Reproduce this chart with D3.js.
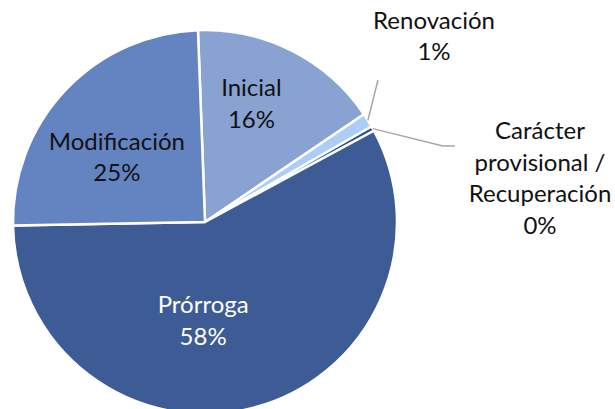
<!DOCTYPE html>
<html>
<head>
<meta charset="utf-8">
<script src="https://cdn.jsdelivr.net/npm/d3@7"></script>
<style>
  body { margin: 0; background: #fff; }
  text { font-family: Lato, "Open Sans", sans-serif; }
</style>
</head>
<body>
<script>
// data (share of total, %)
var categories = ["Inicial", "Renovación", "Carácter provisional / Recuperación", "Prórroga", "Modificación"];
var values = [16.1, 1.2, 0.4, 57.6, 24.7];
var colors = ["#88a3d1", "#abcef6", "#2f4f8a", "#3d5b95", "#6483c1"];

var width = 615, height = 409;
var cx = 205, cy = 222, radius = 192;
var offset = -2.1 * Math.PI / 180;   // first slice starts a little left of 12 o'clock

var svg = d3.select("body").append("svg")
    .attr("width", width)
    .attr("height", height);

var g = svg.append("g")
    .attr("transform", "translate(" + cx + "," + cy + ")");

var data = categories.map(function(c, i) { return {name: c, value: values[i], color: colors[i]}; });

var pie = d3.pie()
    .sort(null)
    .value(function(d) { return d.value; })
    .startAngle(offset)
    .endAngle(offset + 2 * Math.PI);

var arc = d3.arc().innerRadius(0).outerRadius(radius);
var arcs = pie(data);

g.selectAll("path.slice")
    .data(arcs)
  .enter().append("path")
    .attr("class", "slice")
    .attr("d", arc)
    .style("fill", function(d) { return d.data.color; })
    .style("stroke", "#fff")
    .style("stroke-width", 2.5)
    .style("stroke-linejoin", "round");

var fs = 24, lh = 31.5;

// labels inside the pie: [index, label radius, dx, dy, colour]
var inside = [
  [0, 127, -11, -5, "#111"],
  [4, 109, -9, 10, "#111"],
  [3, 99, -27, 3, "#fff"]
];

inside.forEach(function(p) {
  var d = arcs[p[0]];
  var c = d3.arc().innerRadius(p[1]).outerRadius(p[1]).centroid(d);
  var lines = [d.data.name, Math.round(d.data.value) + "%"];
  var t = g.append("text")
      .attr("text-anchor", "middle")
      .style("font-size", fs + "px")
      .style("fill", p[4]);
  lines.forEach(function(l, k) {
    t.append("tspan")
      .attr("x", c[0] + p[2])
      .attr("y", c[1] + p[3] + (k - (lines.length - 1) / 2) * lh + fs * 0.35)
      .text(l);
  });
});

// labels outside with leader lines: [index, label x, label y, leader points after the edge]
var outside = [
  [1, 229, -186, [[173, -142]], ["Renovación"]],
  [2, 335, -44, [[238, -76], [250, -76]], ["Carácter", "provisional /", "Recuperación"]]
];

var edge = d3.arc().innerRadius(radius).outerRadius(radius);

outside.forEach(function(p) {
  var d = arcs[p[0]];
  var pts = [edge.centroid(d)].concat(p[3]);
  g.append("path")
    .attr("d", d3.line()(pts))
    .style("fill", "none")
    .style("stroke", "#a6a6a6")
    .style("stroke-width", 1.5);
  var lines = p[4].concat([Math.round(d.data.value) + "%"]);
  var t = g.append("text")
      .attr("text-anchor", "middle")
      .style("font-size", fs + "px")
      .style("fill", "#111");
  lines.forEach(function(l, k) {
    t.append("tspan")
      .attr("x", p[1])
      .attr("y", p[2] + (k - (lines.length - 1) / 2) * lh + fs * 0.35)
      .text(l);
  });
});
</script>
</body>
</html>
